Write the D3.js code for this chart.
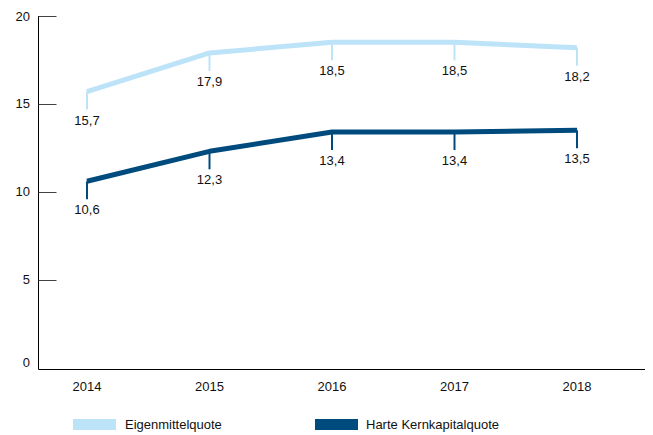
<!DOCTYPE html>
<html><head><meta charset="utf-8">
<script src="https://cdn.jsdelivr.net/npm/d3@7"></script>
<style>body{margin:0;background:#fff}svg{display:block;font-family:"Liberation Sans",Arial,sans-serif}</style>
</head><body><svg id="c" width="653" height="435"></svg>
<script>
const years = ["2014","2015","2016","2017","2018"];
const eigenmittel = [15.7, 17.9, 18.5, 18.5, 18.2];
const hartesKernkapital = [10.6, 12.3, 13.4, 13.4, 13.5];
const yTicks = [0, 5, 10, 15, 20];
const seriesNames = ["Eigenmittelquote", "Harte Kernkapitalquote"];
const colors = ["#bde3f9", "#004b7e"];

const svg = d3.select("#c");
const x = d3.scalePoint().domain(years).range([87, 577]);
const y = d3.scaleLinear().domain([0, 20]).range([367.5, 16]);
const axisY = 369.5;

// axes
svg.append("line").attr("x1", 38.5).attr("x2", 38.5).attr("y1", y(20)).attr("y2", axisY).attr("stroke", "#000").attr("stroke-width", 1);
svg.append("line").attr("x1", 38.5).attr("x2", 645).attr("y1", axisY).attr("y2", axisY).attr("stroke", "#000").attr("stroke-width", 1);
yTicks.forEach(t => {
  if (t > 0) svg.append("line").attr("x1", 38.5).attr("x2", 56.5).attr("y1", Math.round(y(t)) + 0.5).attr("y2", Math.round(y(t)) + 0.5).attr("stroke", "#444").attr("stroke-width", 1);
  svg.append("text").attr("x", 30).attr("y", (t === 0 ? y(t) - 5 : y(t)) + 4.5).attr("text-anchor", "end").attr("font-size", 13).attr("fill", "#111").text(t);
});
years.forEach(yr => {
  svg.append("text").attr("x", x(yr)).attr("y", 391).attr("text-anchor", "middle").attr("font-size", 13).attr("fill", "#111").text(yr);
});

const line = d3.line().x((d, i) => x(years[i])).y(d => y(d));
[eigenmittel, hartesKernkapital].forEach((vals, s) => {
  const g = svg.append("g");
  vals.forEach((v, i) => {
    g.append("line").attr("x1", x(years[i])).attr("x2", x(years[i])).attr("y1", y(v)).attr("y2", y(v) + 18).attr("stroke", colors[s]).attr("stroke-width", 2);
    g.append("text").attr("x", x(years[i])).attr("y", y(v) + 33).attr("text-anchor", "middle").attr("font-size", 13).attr("fill", "#111").text(String(v).replace(".", ","));
  });
  g.append("path").attr("d", line(vals)).attr("fill", "none").attr("stroke", colors[s]).attr("stroke-width", 5).attr("stroke-linejoin", "round");
});

// legend
const lx = [73, 315], tx = [125, 366];
seriesNames.forEach((n, s) => {
  svg.append("rect").attr("x", lx[s]).attr("y", 419).attr("width", 43).attr("height", 11).attr("fill", colors[s]);
  svg.append("text").attr("x", tx[s]).attr("y", 429).attr("font-size", 13).attr("fill", "#111").text(n);
});
</script></body></html>
